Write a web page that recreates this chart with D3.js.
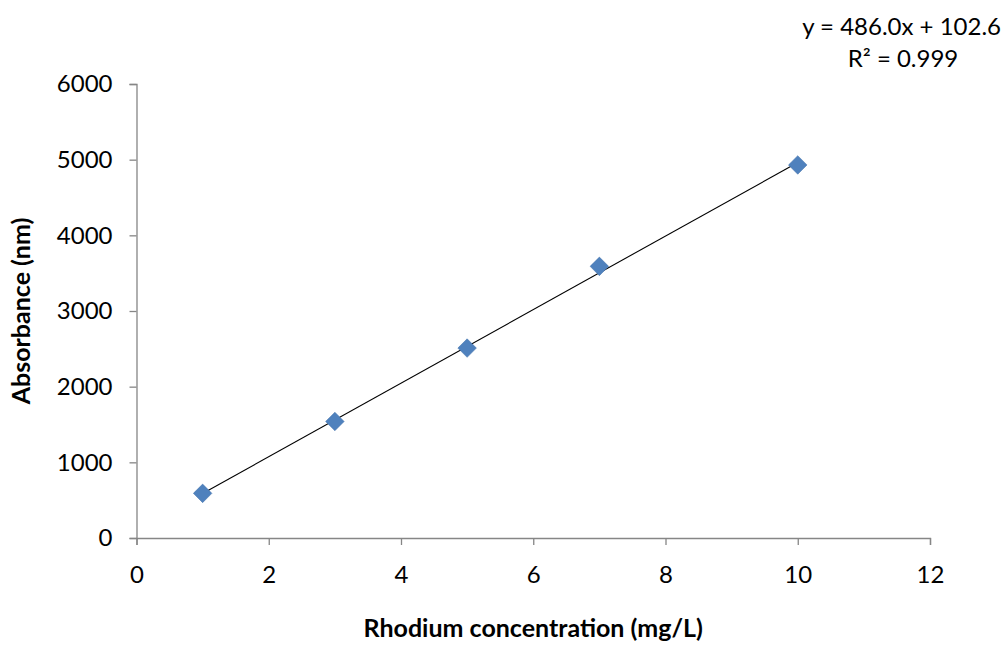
<!DOCTYPE html>
<html>
<head>
<meta charset="utf-8">
<script src="https://cdn.jsdelivr.net/npm/d3@7"></script>
<style>
  body { margin: 0; background: #fff; }
  text { font-family: Lato, "Open Sans", sans-serif; fill: #000; }
</style>
</head>
<body>
<div id="chart"></div>
<script>
// Data
const concentration = [1, 3, 5, 7, 10];
const absorbance = [590, 1540, 2510, 3590, 4930];
const xTicks = [0, 2, 4, 6, 8, 10, 12];
const yTicks = [0, 1000, 2000, 3000, 4000, 5000, 6000];
const slope = 486.0;
const intercept = 102.6;
const equationLines = ["y = 486.0x + 102.6", "R\u00b2 = 0.999"];

const width = 1004;
const height = 646;
const margin = { left: 136.5, right: 74, top: 84, bottom: 108 };

const svg = d3.select("#chart")
    .append("svg")
    .attr("width", width)
    .attr("height", height);

const xScale = d3.scaleLinear()
    .domain([0, 12])
    .range([margin.left, width - margin.right]);

const yScale = d3.scaleLinear()
    .domain([0, 6000])
    .range([height - margin.bottom, margin.top]);

const axisColor = "#868686";

// y axis
const yAxis = svg.append("g")
    .attr("transform", `translate(${margin.left},0)`)
    .call(d3.axisLeft(yScale).tickValues(yTicks).tickSize(7).tickPadding(17).tickFormat(d3.format("d")));

// x axis
const xAxis = svg.append("g")
    .attr("transform", `translate(0,${yScale(0)})`)
    .call(d3.axisBottom(xScale).tickValues(xTicks).tickSize(7).tickPadding(21).tickFormat(d3.format("d")));

[xAxis, yAxis].forEach(g => {
    g.select(".domain").attr("stroke", axisColor).attr("stroke-width", 1.3);
    g.selectAll(".tick line").attr("stroke", axisColor).attr("stroke-width", 1.3);
    g.selectAll(".tick text")
        .style("font-family", "Lato, 'Open Sans', sans-serif")
        .style("font-size", "24px")
        .attr("fill", "#000");
});

// trendline
const xMin = d3.min(concentration), xMax = d3.max(concentration);
svg.append("line")
    .attr("x1", xScale(xMin))
    .attr("y1", yScale(slope * xMin + intercept))
    .attr("x2", xScale(xMax))
    .attr("y2", yScale(slope * xMax + intercept))
    .attr("stroke", "#000")
    .attr("stroke-width", 1.1);

// markers
const points = concentration.map((c, i) => ({ x: c, y: absorbance[i] }));
svg.selectAll(".point")
    .data(points)
    .enter()
    .append("path")
    .attr("class", "point")
    .attr("d", d3.symbol().type(d3.symbolDiamond2).size(220))
    .attr("transform", d => `translate(${xScale(d.x)},${yScale(d.y)})`)
    .attr("fill", "#4f81bd")
    .attr("stroke", "#3f6fa8")
    .attr("stroke-width", 0.5);

// equation labels
svg.append("text")
    .attr("x", 1001)
    .attr("y", 35)
    .attr("text-anchor", "end")
    .style("font-size", "24px")
    .text(equationLines[0]);

svg.append("text")
    .attr("x", 903)
    .attr("y", 67)
    .attr("text-anchor", "middle")
    .style("font-size", "24px")
    .text(equationLines[1]);

// axis titles
svg.append("text")
    .attr("transform", `translate(30,${(yScale(0) + yScale(6000)) / 2}) rotate(-90)`)
    .attr("text-anchor", "middle")
    .style("font-size", "25px")
    .style("font-weight", "bold")
    .text("Absorbance (nm)");

svg.append("text")
    .attr("x", (xScale(0) + xScale(12)) / 2)
    .attr("y", 637)
    .attr("text-anchor", "middle")
    .style("font-size", "25px")
    .style("font-weight", "bold")
    .text("Rhodium concentration (mg/L)");
</script>
</body>
</html>
